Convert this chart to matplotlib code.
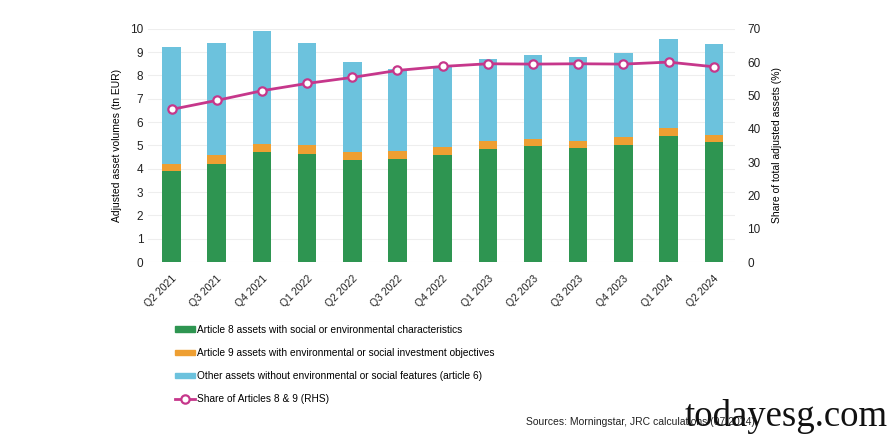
import numpy as np
import matplotlib.pyplot as plt
from matplotlib.patches import Patch
from matplotlib.lines import Line2D

plt.rcParams['font.family'] = ['Liberation Sans', 'DejaVu Sans']

quarters = ["Q2 2021", "Q3 2021", "Q4 2021", "Q1 2022", "Q2 2022", "Q3 2022", "Q4 2022",
            "Q1 2023", "Q2 2023", "Q3 2023", "Q4 2023", "Q1 2024", "Q2 2024"]
# tn EUR
art8 = [3.89, 4.21, 4.70, 4.64, 4.37, 4.40, 4.57, 4.86, 4.96, 4.89, 5.00, 5.39, 5.14]
art9 = [0.32, 0.36, 0.37, 0.39, 0.36, 0.37, 0.36, 0.31, 0.31, 0.32, 0.34, 0.35, 0.32]
other = [4.99, 4.82, 4.82, 4.36, 3.83, 3.50, 3.45, 3.53, 3.62, 3.56, 3.63, 3.83, 3.90]
# share of articles 8 & 9 (%)
share = [45.8, 48.5, 51.4, 53.6, 55.4, 57.5, 58.7, 59.5, 59.4, 59.5, 59.4, 60.0, 58.6]

GREEN = "#2e9551"
ORANGE = "#ee9f32"
BLUE = "#6cc2dd"
MAGENTA = "#c6378b"

fig = plt.figure(figsize=(8.92, 4.36), dpi=100)
ax = fig.add_axes([0.166, 0.399, 0.658, 0.535])
x = np.arange(len(quarters))
w = 0.41

ax.bar(x, art8, w, color=GREEN, zorder=2)
ax.bar(x, art9, w, bottom=art8, color=ORANGE, zorder=2)
ax.bar(x, other, w, bottom=np.array(art8) + np.array(art9), color=BLUE, zorder=2)

ax.set_ylim(0, 10)
ax.set_yticks(range(0, 11))
ax.set_xlim(-0.52, 12.47)
ax.set_xticks(x)
ax.set_xticklabels(quarters, rotation=45, ha="right", rotation_mode="anchor", fontsize=7.5)
ax.tick_params(axis="both", length=0, labelsize=8.5, colors="#222222")
ax.tick_params(axis="x", pad=8, labelsize=7.5)
ax.grid(axis="y", color="#eeeeee", linewidth=0.8, zorder=0)
for s in ax.spines.values():
    s.set_visible(False)
ax.set_ylabel("Adjusted asset volumes (tn EUR)", fontsize=7.5, labelpad=6)

ax2 = ax.twinx()
ax2.plot(x, share, color=MAGENTA, linewidth=2, marker="o", markersize=6,
         markerfacecolor="white", markeredgecolor=MAGENTA, markeredgewidth=1.6, zorder=3)
ax2.set_ylim(0, 70)
ax2.set_yticks(range(0, 71, 10))
ax2.tick_params(axis="y", length=0, labelsize=8.5, colors="#222222", pad=9)
for s in ax2.spines.values():
    s.set_visible(False)
ax2.set_ylabel("Share of total adjusted assets (%)", fontsize=7.5, labelpad=8)

handles = [
    Patch(color=GREEN),
    Patch(color=ORANGE),
    Patch(color=BLUE),
    Line2D([0], [0], color=MAGENTA, linewidth=2, marker="o", markersize=6,
           markerfacecolor="white", markeredgecolor=MAGENTA, markeredgewidth=1.6),
]
labels = [
    "Article 8 assets with social or environmental characteristics",
    "Article 9 assets with environmental or social investment objectives",
    "Other assets without environmental or social features (article 6)",
    "Share of Articles 8 & 9 (RHS)",
]
fig.legend(handles, labels, loc="upper left", bbox_to_anchor=(0.196, 0.255),
           frameon=False, fontsize=7.3, handlelength=2.0, handleheight=0.45,
           handletextpad=0.2, labelspacing=1.3, borderaxespad=0, borderpad=0)

fig.text(0.59, 0.025, "Sources: Morningstar, JRC calculations (07/2024).", fontsize=7.5, color="#222222")
fig.text(0.768, 0.022, "todayesg.com", fontsize=26.5, family="Liberation Serif", color="#111111")

fig.savefig("out.png", dpi=100)
